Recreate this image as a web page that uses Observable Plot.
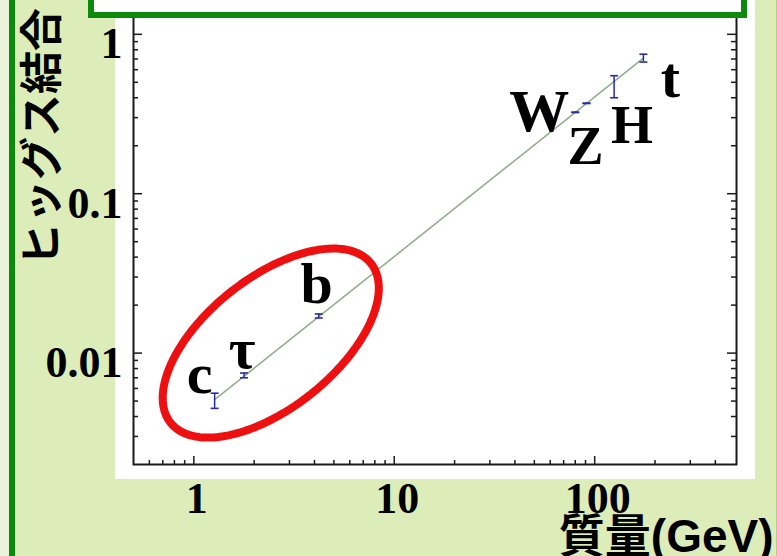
<!DOCTYPE html>
<html>
<head>
<meta charset="utf-8">
<script src="https://cdn.jsdelivr.net/npm/d3@7"></script>
<script src="https://cdn.jsdelivr.net/npm/@observablehq/plot@0.6"></script>
<style>
  html, body { margin: 0; padding: 0; background: #dcedb9; }
  #stage { position: relative; width: 777px; height: 556px; overflow: hidden; background: #dcedb9; }
  #panel { position: absolute; left: 115px; top: 0; width: 640px; height: 479px; background: #fff; }
  #chart { position: absolute; left: 0; top: 0; }
  #banner { position: absolute; left: 88px; top: -20px; width: 647px; height: 26px; border: 6px solid #0b8a0b; background: #fff; }
  #edge { position: absolute; left: 0; top: 0; width: 9px; height: 556px; background: #eaf4da; }
  #rail { position: absolute; left: 9px; top: 0; width: 6px; height: 556px; background: #0b8a0b; }
  #rim { position: absolute; left: 776px; top: 0; width: 1px; height: 556px; background: #a9d27f; }
  #ytitle {
    position: absolute; left: -105px; top: 114px; width: 270px; height: 46px;
    line-height: 46px; text-align: center; transform: rotate(-90deg);
    font: bold 43px "Noto Sans CJK JP", sans-serif; color: #000; white-space: nowrap;
  }
</style>
</head>
<body>
<div id="stage">
  <div id="edge"></div>
  <div id="panel"></div>
  <div id="chart"></div>
  <div id="banner"></div>
  <div id="rail"></div>
  <div id="rim"></div>
  <div id="ytitle">ヒッグス結合</div>
</div>
<script>
// Particles: mass (GeV) and Higgs coupling with its measured range
const particles    = ["c", "τ", "b", "W", "Z", "H", "t"];
const masses       = [1.27, 1.78, 4.2, 80, 91, 125, 175];
const couplings    = [0.0050, 0.0072, 0.0171, 0.324, 0.369, 0.47, 0.71];
const couplingLow  = [0.0045, 0.0070, 0.0166, 0.323, 0.368, 0.40, 0.67];
const couplingHigh = [0.0056, 0.0075, 0.0176, 0.325, 0.370, 0.55, 0.75];

// Standard Model expectation (coupling proportional to mass)
const fitMass     = [1.27, 175];
const fitCoupling = [0.0051, 0.71];

// Axis ticks
const xMajor = [1, 10, 100];
const xMinor = [0.6, 0.7, 0.8, 0.9, 2, 3, 4, 5, 6, 7, 8, 9, 20, 30, 40, 50, 60, 70, 80, 90, 200, 300, 400];
const yMajor = [0.01, 0.1, 1];
const yMinor = [0.003, 0.004, 0.005, 0.006, 0.007, 0.008, 0.009,
                0.02, 0.03, 0.04, 0.05, 0.06, 0.07, 0.08, 0.09,
                0.2, 0.3, 0.4, 0.5, 0.6, 0.7, 0.8, 0.9];

// Highlight around the light fermions: centre and half-axes in decades (log10 units)
const ringCenterMass = 2.42;
const ringCenterCoupling = 0.01156;
const ringMajor = [0.5, 0.5];
const ringMinor = [0.2018, -0.319];

const rows = particles.map((name, i) => ({
  name, mass: masses[i], coupling: couplings[i], lo: couplingLow[i], hi: couplingHigh[i]
}));
const fitRows = fitMass.map((m, i) => ({mass: m, coupling: fitCoupling[i]}));

const ring = d3.range(0, 121).map(k => {
  const t = (k / 120) * 2 * Math.PI;
  const lx = Math.log10(ringCenterMass) + Math.cos(t) * ringMajor[0] + Math.sin(t) * ringMinor[0];
  const ly = Math.log10(ringCenterCoupling) + Math.cos(t) * ringMajor[1] + Math.sin(t) * ringMinor[1];
  return {mass: Math.pow(10, lx), coupling: Math.pow(10, ly)};
});

const W = 777, H = 556;
const mL = 133, mR = 41, mT = 0, mB = 92;
const plotW = W - mL - mR, plotH = H - mT - mB;

const blue = "#2b2ba6";
const axisInk = "#1a1a1a";
const serif = "'Liberation Serif', 'Times New Roman', serif";

// Horizontal cap for the error bars
const cap = {
  draw(context, size) {
    const r = Math.sqrt(size / Math.PI);
    context.moveTo(-r, 0);
    context.lineTo(r, 0);
  }
};

function particleLabel(name, dx, dy, size) {
  return Plot.text(rows.filter(d => d.name === name), {
    x: "mass", y: "coupling", text: "name", dx, dy,
    fontSize: size, fontWeight: "bold", fontFamily: serif, fill: "#000",
    textAnchor: "middle", lineAnchor: "middle"
  });
}

const chart = Plot.plot({
  width: W, height: H,
  marginLeft: mL, marginRight: mR, marginTop: mT, marginBottom: mB,
  x: {type: "log", domain: [0.5, 510], axis: null},
  y: {type: "log", domain: [0.002, 1.63], axis: null},
  style: {background: "transparent", overflow: "visible"},
  marks: [
    // inward ticks on bottom, left and right
    Plot.tickX(xMinor, {x: d => d, insetTop: plotH - 4, stroke: axisInk, strokeWidth: 1.5}),
    Plot.tickX(xMajor, {x: d => d, insetTop: plotH - 8, stroke: axisInk, strokeWidth: 1.5}),
    Plot.tickY(yMinor, {y: d => d, insetRight: plotW - 5, stroke: axisInk, strokeWidth: 1.5}),
    Plot.tickY(yMajor, {y: d => d, insetRight: plotW - 9, stroke: axisInk, strokeWidth: 1.5}),
    Plot.tickY(yMinor, {y: d => d, insetLeft: plotW - 5, stroke: axisInk, strokeWidth: 1.5}),
    Plot.tickY(yMajor, {y: d => d, insetLeft: plotW - 9, stroke: axisInk, strokeWidth: 1.5}),
    Plot.frame({stroke: axisInk, strokeWidth: 2}),

    // tick labels
    Plot.text(yMajor, {
      y: d => d, text: d => String(d), frameAnchor: "left", dx: -11, dy: 10,
      textAnchor: "end", lineAnchor: "middle",
      fontSize: 44, fontWeight: "bold", fontFamily: serif, fill: "#000"
    }),
    Plot.text(xMajor, {
      x: d => d, text: d => String(d), frameAnchor: "bottom", dx: 3, dy: 34,
      textAnchor: "middle", lineAnchor: "middle",
      fontSize: 44, fontWeight: "bold", fontFamily: serif, fill: "#000"
    }),

    // mass-proportional expectation
    Plot.line(fitRows, {x: "mass", y: "coupling", stroke: "#93ad91", strokeWidth: 1.6}),

    // measurements with error bars
    Plot.ruleX(rows, {x: "mass", y1: "lo", y2: "hi", stroke: blue, strokeWidth: 1.5}),
    Plot.dot(rows, {x: "mass", y: "lo", symbol: cap, r: 4, stroke: blue, strokeWidth: 1.6, fill: "none"}),
    Plot.dot(rows, {x: "mass", y: "hi", symbol: cap, r: 4, stroke: blue, strokeWidth: 1.6, fill: "none"}),

    // highlight ring
    Plot.line(ring, {x: "mass", y: "coupling", curve: "linear-closed", stroke: "#ee1010", strokeWidth: 8}),

    // particle names
    particleLabel("c", -15, -27, 58),
    particleLabel("τ", -2, -26, 58),
    particleLabel("b", -2, -32, 58),
    particleLabel("W", -36, -1, 60),
    particleLabel("Z", -1, 43, 54),
    particleLabel("H", 18, 39, 54),
    particleLabel("t", 27, 20, 58),

    // x title
    Plot.text(["質量(GeV)"], {
      text: d => d, frameAnchor: "bottom-right", dx: 37, dy: 73,
      textAnchor: "end", lineAnchor: "middle",
      fontSize: 46, fontWeight: "bold", fontFamily: "'Liberation Sans', 'Noto Sans CJK JP', sans-serif", fill: "#000"
    })
  ]
});

document.getElementById("chart").appendChild(chart);
</script>
</body>
</html>
